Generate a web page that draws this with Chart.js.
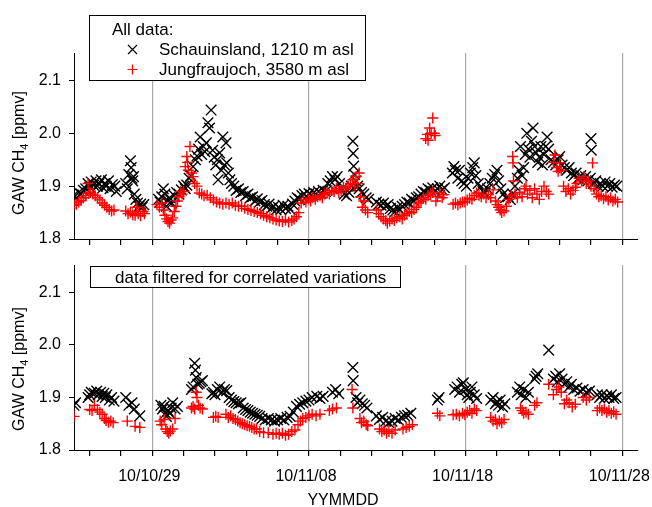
<!DOCTYPE html>
<html>
<head>
<meta charset="utf-8">
<script src="https://cdn.jsdelivr.net/npm/chart.js@4.4.0/dist/chart.umd.min.js"></script>
<style>
  html, body { margin: 0; padding: 0; background: #fff; overflow: hidden; }
  #wrap { position: relative; width: 652px; height: 507px; }
  canvas { position: absolute; left: 0; }
  #cTop { top: 0; }
  #cBot { top: 253px; }
</style>
</head>
<body>
<div id="wrap">
  <canvas id="cTop" width="652" height="253"></canvas>
  <canvas id="cBot" width="652" height="254"></canvas>
</div>
<script>
// x = days after 10/10/24, y = CH4 in ppmv
const xTickDays = [1, 3, 5, 7, 9, 11, 13, 15, 17, 19, 21, 23, 25, 27, 29, 31, 33, 35];
const xMajorDays = [5, 15, 25, 35];
const xMajorLabels = ['10/10/29', '10/11/08', '10/11/18', '10/11/28'];
const yTickVals = [1.8, 1.9, 2.0, 2.1];

// top panel: all data
const schAll = [
  [0.0,1.883],[0.15,1.878],[0.3,1.888],[0.45,1.885],[0.6,1.892],[0.75,1.895],[0.9,1.905],[1.0,1.898],[1.1,1.908],[1.25,1.902],
  [1.4,1.91],[1.5,1.9],[1.6,1.905],[1.75,1.912],[1.85,1.897],[1.95,1.905],[2.05,1.9],[2.2,1.91],[2.3,1.895],[2.45,1.903],[2.6,1.9],[2.7,1.89],
  [3.3,1.905],[3.4,1.895],[3.5,1.922],[3.6,1.948],[3.65,1.935],[3.7,1.915],[3.75,1.91],[3.8,1.918],[3.85,1.885],[3.95,1.875],
  [4.05,1.868],[4.15,1.862],[4.25,1.866],[4.35,1.86],[4.45,1.865],
  [5.4,1.875],[5.5,1.87],[5.6,1.88],[5.7,1.895],[5.8,1.885],[5.9,1.862],[6.0,1.872],[6.1,1.878],[6.25,1.868],[6.4,1.882],
  [6.55,1.888],[6.7,1.885],[6.85,1.893],[7.0,1.9],[7.1,1.895],[7.2,1.902],[7.35,1.915],[7.45,1.92],[7.6,1.937],[7.75,1.95],
  [7.85,1.957],[7.95,1.97],[8.05,1.993],[8.15,1.96],[8.25,1.975],[8.35,1.965],[8.45,1.982],[8.55,2.02],[8.65,2.01],[8.75,2.044],
  [8.85,1.968],[8.95,1.955],[9.05,1.94],[9.15,1.95],[9.2,1.912],[9.3,1.963],[9.4,1.93],[9.5,1.993],[9.6,1.94],[9.7,1.982],
  [9.75,1.944],[9.85,1.925],[9.95,1.912],[10.05,1.905],[10.2,1.9],[10.35,1.892],[10.5,1.895],[10.65,1.888],[10.8,1.89],[10.95,1.882],
  [11.1,1.885],[11.25,1.878],[11.4,1.88],[11.55,1.872],[11.7,1.876],[11.85,1.87],[12.0,1.873],[12.15,1.865],[12.3,1.862],[12.45,1.866],
  [12.6,1.858],[12.75,1.862],[12.9,1.855],[13.05,1.86],[13.2,1.856],[13.35,1.864],[13.5,1.858],[13.65,1.862],[13.8,1.856],[13.95,1.866],
  [14.1,1.872],[14.25,1.878],[14.4,1.875],[14.55,1.882],[14.7,1.885],[14.85,1.88],[15.0,1.886],[15.15,1.883],[15.3,1.888],[15.45,1.885],
  [15.6,1.89],[15.75,1.886],[15.9,1.892],[16.05,1.89],[16.2,1.905],[16.35,1.91],[16.5,1.918],[16.65,1.912],[16.8,1.918],[16.95,1.905],
  [17.1,1.895],[17.25,1.885],[17.4,1.882],[17.55,1.888],[17.7,1.9],[17.8,1.985],[17.82,1.962],[17.85,1.938],[17.9,1.922],[18.0,1.91],
  [18.1,1.9],[18.2,1.895],[18.35,1.888],[18.5,1.885],[18.65,1.878],[18.8,1.875],
  [19.3,1.87],[19.45,1.866],[19.6,1.864],[19.75,1.868],[19.9,1.862],[20.05,1.865],[20.2,1.858],[20.35,1.855],[20.5,1.852],[20.65,1.86],
  [20.8,1.855],[20.95,1.862],[21.1,1.865],[21.25,1.87],[21.4,1.868],[21.55,1.875],[21.7,1.872],[21.85,1.878],[22.0,1.88],[22.15,1.885],
  [22.3,1.89],[22.45,1.888],[22.6,1.895],[22.75,1.892],[22.9,1.897],[23.05,1.89],[23.2,1.895],[23.35,1.9],[23.5,1.893],[23.65,1.897],
  [24.15,1.925],[24.25,1.937],[24.35,1.93],[24.5,1.915],[24.6,1.93],[24.75,1.91],[24.9,1.905],[25.05,1.9],[25.15,1.915],[25.3,1.925],
  [25.45,1.935],[25.55,1.944],[25.65,1.92],[25.8,1.905],[25.95,1.898],[26.1,1.89],[26.25,1.887],[26.4,1.895],[26.55,1.905],[26.7,1.915],
  [26.85,1.922],[27.0,1.93],[27.1,1.91],[27.25,1.895],[27.4,1.885],[27.55,1.878],[27.7,1.88],[27.85,1.875],[28.0,1.885],[28.15,1.9],
  [28.3,1.915],[28.4,1.93],[28.5,1.975],[28.6,1.92],[28.7,1.935],[28.8,1.96],[28.9,2.0],[29.0,1.97],[29.1,1.955],[29.2,1.985],
  [29.3,2.01],[29.4,1.975],[29.5,1.963],[29.6,1.945],[29.7,1.955],[29.8,1.975],[29.9,1.94],[30.0,1.96],[30.1,1.975],[30.2,1.993],
  [30.3,1.97],[30.45,1.95],[30.6,1.945],[30.75,1.94],[30.9,1.95],[31.0,1.956],[31.15,1.94],[31.3,1.935],[31.45,1.93],[31.6,1.935],
  [31.75,1.925],[31.9,1.92],[32.05,1.925],[32.2,1.915],[32.35,1.92],[32.5,1.912],[32.65,1.918],[32.8,1.91],[32.95,1.915],[33.0,1.99],
  [33.02,1.968],[33.15,1.905],[33.3,1.91],[33.45,1.9],[33.6,1.905],[33.75,1.9],[33.9,1.908],[34.05,1.9],[34.2,1.905],[34.35,1.898],
  [34.5,1.902],[34.65,1.9]
];

const jfjAll = [
  [0.0,1.864],[0.15,1.866],[0.3,1.87],[0.45,1.873],[0.6,1.878],[0.75,1.882],[0.9,1.905],[0.95,1.886],[1.05,1.888],[1.2,1.885],
  [1.35,1.882],[1.5,1.878],[1.65,1.874],[1.8,1.868],[1.95,1.864],[2.1,1.86],[2.25,1.856],[2.4,1.853],[2.55,1.855],
  [3.3,1.853],[3.45,1.848],[3.6,1.851],[3.75,1.846],[3.9,1.845],[4.0,1.86],[4.1,1.848],[4.25,1.844],[4.4,1.852],[4.5,1.848],
  [5.3,1.865],[5.45,1.86],[5.6,1.868],[5.7,1.855],[5.8,1.845],[5.9,1.838],[6.0,1.833],[6.1,1.83],[6.2,1.836],[6.3,1.84],
  [6.4,1.852],[6.5,1.862],[6.6,1.872],[6.7,1.88],[6.8,1.89],[6.9,1.885],[7.0,1.89],[7.1,1.937],[7.2,1.956],[7.25,1.945],
  [7.3,1.93],[7.4,1.975],[7.5,1.925],[7.6,1.918],[7.7,1.905],[7.85,1.9],[8.0,1.887],[8.15,1.885],[8.3,1.882],[8.5,1.883],
  [8.7,1.878],[8.9,1.874],[9.1,1.87],[9.3,1.868],[9.5,1.866],[9.7,1.868],[9.9,1.866],[10.1,1.868],[10.3,1.864],[10.5,1.862],
  [10.7,1.862],[10.9,1.858],[11.1,1.856],[11.3,1.854],[11.5,1.852],[11.7,1.85],[11.9,1.848],[12.1,1.845],[12.3,1.842],[12.5,1.84],
  [12.7,1.838],[12.9,1.836],[13.1,1.834],[13.3,1.833],[13.5,1.836],[13.7,1.832],[13.9,1.835],[14.05,1.838],[14.2,1.842],[14.35,1.85],
  [14.5,1.868],[14.65,1.874],[14.8,1.87],[14.95,1.876],[15.1,1.872],[15.25,1.878],[15.4,1.875],[15.55,1.88],[15.7,1.882],[15.85,1.878],
  [16.0,1.885],[16.15,1.888],[16.3,1.885],[16.45,1.892],[16.6,1.89],[16.75,1.895],[16.9,1.888],[17.05,1.892],[17.2,1.898],[17.35,1.895],
  [17.5,1.9],[17.65,1.905],[17.8,1.912],[17.9,1.9],[18.0,1.918],[18.1,1.905],[18.2,1.925],[18.3,1.88],[18.4,1.86],[18.5,1.872],
  [18.6,1.855],[18.75,1.85],
  [19.3,1.855],[19.45,1.848],[19.6,1.842],[19.75,1.838],[19.9,1.835],[20.0,1.83],[20.15,1.834],[20.3,1.838],[20.45,1.835],[20.6,1.84],
  [20.8,1.842],[20.95,1.838],[21.1,1.845],[21.25,1.848],[21.4,1.852],[21.55,1.85],[21.7,1.856],[21.85,1.86],[22.0,1.868],[22.15,1.872],
  [22.3,1.878],[22.45,1.875],[22.6,1.882],[22.45,1.99],[22.55,1.998],[22.6,1.987],[22.7,2.01],[22.8,2.0],[22.9,2.029],[23.0,2.0],
  [23.05,1.996],[22.75,1.885],[22.9,1.888],[23.1,1.872],[23.2,1.88],[23.35,1.888],[23.5,1.878],[23.6,1.884],
  [24.2,1.866],[24.35,1.868],[24.5,1.865],[24.65,1.868],[24.8,1.87],[24.95,1.87],[25.1,1.874],[25.25,1.877],[25.4,1.875],[25.55,1.882],
  [25.7,1.887],[25.85,1.883],[26.0,1.88],[26.15,1.885],[26.3,1.878],[26.45,1.884],[26.6,1.878],[26.75,1.893],[26.9,1.872],[27.0,1.865],
  [27.1,1.86],[27.2,1.855],[27.3,1.85],[27.45,1.853],[27.6,1.862],[27.75,1.875],[27.9,1.882],[28.0,1.956],[28.02,1.944],[28.05,1.91],
  [28.15,1.885],[28.3,1.878],[28.45,1.888],[28.6,1.88],[28.75,1.895],[28.85,1.9],[28.95,1.885],[29.1,1.892],[29.25,1.878],[29.4,1.895],
  [29.55,1.885],[29.7,1.875],[29.85,1.89],[30.0,1.9],[30.15,1.89],[30.3,1.885],[30.6,1.945],[30.7,1.959],[30.8,1.935],[30.9,1.928],
  [31.0,1.944],[31.1,1.93],[31.25,1.9],[31.4,1.89],[31.55,1.895],[31.7,1.885],[31.85,1.892],[32.0,1.898],[32.1,1.905],[32.25,1.915],
  [32.4,1.91],[32.55,1.918],[32.7,1.905],[32.85,1.91],[33.0,1.9],[33.1,1.944],[33.2,1.895],[33.35,1.885],[33.5,1.88],[33.65,1.882],
  [33.8,1.876],[33.95,1.88],[34.1,1.874],[34.25,1.878],[34.4,1.872],[34.55,1.875],[34.7,1.87]
];

// bottom panel: filtered data
const schFilt = [
  [0.0,1.885],[0.1,1.89],
  [0.9,1.9],[1.0,1.905],[1.1,1.91],[1.3,1.908],[1.45,1.912],[1.55,1.905],[1.7,1.91],[1.8,1.902],[1.9,1.908],[2.0,1.9],
  [2.1,1.905],[2.25,1.895],[2.4,1.9],[2.55,1.893],
  [3.3,1.9],[3.5,1.885],[3.7,1.89],[3.85,1.878],[4.2,1.865],
  [5.55,1.885],[5.65,1.878],[5.75,1.883],[5.85,1.87],[5.9,1.864],[6.0,1.875],[6.1,1.87],[6.2,1.88],[6.3,1.89],[6.45,1.878],[6.6,1.883],
  [7.5,1.915],[7.6,1.92],[7.7,1.965],[7.75,1.952],[7.8,1.938],[7.9,1.925],[8.0,1.927],[8.1,1.93],[8.2,1.932],
  [8.8,1.907],[8.9,1.91],[9.0,1.905],[9.15,1.915],[9.3,1.92],[9.45,1.91],[9.6,1.915],[9.75,1.913],[9.9,1.9],[10.05,1.895],
  [10.2,1.892],[10.35,1.89],[10.5,1.888],[10.65,1.89],[10.8,1.88],[10.95,1.877],[11.1,1.875],[11.25,1.872],[11.4,1.87],[11.55,1.868],
  [11.7,1.866],[11.85,1.864],[12.0,1.86],[12.2,1.857],[12.4,1.86],[12.6,1.857],[12.8,1.855],[13.0,1.857],[13.2,1.86],[13.4,1.857],
  [13.6,1.862],[13.8,1.864],[14.0,1.872],[14.2,1.883],[14.4,1.887],[14.6,1.89],[14.8,1.893],[15.0,1.895],[15.2,1.9],[15.5,1.902],
  [15.7,1.898],[15.9,1.902],
  [16.5,1.91],[16.7,1.915],[16.9,1.907],
  [17.8,1.957],[17.82,1.932],[18.0,1.9],[18.1,1.89],[18.25,1.895],[18.4,1.888],[18.55,1.885],[18.7,1.88],
  [19.3,1.865],[19.5,1.858],[19.7,1.862],[19.9,1.855],[20.1,1.852],[20.3,1.855],[20.5,1.86],[20.7,1.857],[20.9,1.862],[21.1,1.865],
  [21.3,1.866],[21.5,1.87],
  [23.2,1.895],[23.3,1.9],
  [24.3,1.915],[24.45,1.92],[24.6,1.91],[24.75,1.925],[24.85,1.928],[25.0,1.915],[25.1,1.905],[25.2,1.9],[25.3,1.91],[25.4,1.92],
  [25.55,1.905],[25.7,1.898],
  [26.6,1.895],[26.75,1.9],[26.9,1.888],[27.0,1.892],[27.1,1.885],[27.2,1.895],[27.35,1.882],[27.5,1.888],
  [28.3,1.91],[28.45,1.92],[28.55,1.905],[28.7,1.915],[28.85,1.9],[29.0,1.91],
  [29.4,1.935],[29.5,1.94],[29.6,1.945],
  [30.3,1.99],
  [30.6,1.935],[30.75,1.94],[30.85,1.93],[31.0,1.945],[31.15,1.935],[31.3,1.925],[31.45,1.93],[31.6,1.92],[31.75,1.925],[31.9,1.915],
  [32.1,1.918],[32.3,1.912],[32.5,1.915],[32.7,1.91],[32.9,1.912],
  [33.4,1.905],[33.55,1.9],[33.7,1.905],[33.85,1.898],[34.0,1.903],[34.15,1.9],[34.3,1.905],[34.45,1.898],[34.6,1.9]
];

const jfjFilt = [
  [0.0,1.864],
  [1.0,1.877],[1.15,1.875],[1.3,1.885],[1.5,1.877],[1.65,1.872],[1.8,1.868],[1.95,1.86],[2.05,1.856],[2.2,1.853],[2.35,1.855],[2.5,1.852],
  [3.4,1.855],[3.9,1.845],[4.2,1.843],
  [5.5,1.855],[5.6,1.848],[5.75,1.858],[5.85,1.84],[5.95,1.835],[6.05,1.832],[6.15,1.836],[6.3,1.84],[6.45,1.86],
  [7.5,1.88],[7.6,1.883],[7.7,1.878],[7.8,1.91],[7.85,1.9],[7.95,1.885],[8.05,1.88],[8.2,1.878],
  [8.9,1.862],[9.05,1.864],[9.2,1.862],
  [9.7,1.868],[9.85,1.862],[10.0,1.865],[10.15,1.86],[10.3,1.858],[10.45,1.855],[10.6,1.852],[10.75,1.85],[10.9,1.848],[11.05,1.846],
  [11.2,1.845],[11.35,1.843],[11.5,1.84],[11.65,1.84],[11.85,1.835],[12.1,1.833],[12.4,1.833],[12.7,1.83],[12.9,1.832],[13.1,1.83],
  [13.3,1.832],[13.5,1.828],[13.7,1.83],[13.9,1.835],[14.1,1.838],[14.3,1.848],[14.45,1.855],[14.6,1.86],[14.8,1.862],[15.0,1.865],
  [15.2,1.868],[15.45,1.865],[15.7,1.868],
  [16.3,1.875],[16.5,1.878],[16.75,1.88],
  [17.75,1.915],[17.8,1.88],
  [18.25,1.86],[18.35,1.852],[18.5,1.855],[18.65,1.848],[18.75,1.846],
  [19.5,1.84],[19.65,1.835],[19.8,1.838],[19.95,1.832],[20.1,1.835],[20.3,1.832],[20.5,1.838],
  [21.0,1.84],[21.2,1.843],[21.4,1.845],[21.6,1.848],
  [23.2,1.87],[23.35,1.865],
  [24.2,1.867],[24.4,1.868],[24.6,1.865],[24.8,1.87],[24.95,1.867],[25.1,1.872],[25.25,1.875],[25.4,1.87],[25.55,1.878],[25.7,1.875],
  [26.6,1.862],[26.75,1.855],[26.9,1.858],[27.0,1.85],[27.15,1.855],[27.3,1.852],[27.45,1.858],
  [28.5,1.88],[28.6,1.875],[28.7,1.87],[28.85,1.872],[29.0,1.868],
  [29.4,1.885],[29.55,1.89],
  [30.3,1.925],[30.6,1.905],[30.8,1.915],[30.95,1.92],[31.1,1.91],[31.3,1.888],[31.45,1.895],[31.6,1.89],[31.8,1.882],[32.0,1.887],
  [32.5,1.9],[32.7,1.895],[32.9,1.9],
  [33.4,1.875],[33.55,1.88],[33.7,1.875],[33.85,1.878],[34.0,1.872],[34.15,1.875],[34.3,1.87],[34.45,1.873],[34.6,1.868]
];

const FONT = '"Liberation Sans", Arial, sans-serif';

function drawCross(ctx, x, y, r, rotated) {
	ctx.beginPath();
	if (rotated) {
		ctx.moveTo(x - r, y - r); ctx.lineTo(x + r, y + r);
		ctx.moveTo(x - r, y + r); ctx.lineTo(x + r, y - r);
	} else {
		ctx.moveTo(x - r, y); ctx.lineTo(x + r, y);
		ctx.moveTo(x, y - r); ctx.lineTo(x, y + r);
	}
	ctx.stroke();
}

function drawYTitle(ctx, x, y) {
	let big = '16px ' + FONT;
	let small = '11px ' + FONT;
	ctx.save();
	ctx.translate(x, y);
	ctx.rotate(-Math.PI / 2);
	ctx.fillStyle = '#000';
	ctx.textBaseline = 'alphabetic';
	ctx.textAlign = 'left';
	ctx.font = big;
	let wa = ctx.measureText('GAW CH').width;
	let wb = ctx.measureText(' [ppmv]').width;
	ctx.font = small;
	let ws = ctx.measureText('4').width;
	let start = -(wa + ws + wb) / 2;
	ctx.font = big;
	ctx.fillText('GAW CH', start, 0);
	ctx.font = small;
	ctx.fillText('4', start + wa, 4);
	ctx.font = big;
	ctx.fillText(' [ppmv]', start + wa + ws, 0);
	ctx.restore();
}

const topTexts = {
	id: 'topTexts',
	afterDraw(chart) {
		let ctx = chart.ctx;
		drawYTitle(ctx, 24, 153);
		ctx.save();
		ctx.fillStyle = '#fff';
		ctx.fillRect(89.5, 15.5, 276, 65);
		ctx.strokeStyle = '#000';
		ctx.lineWidth = 1;
		ctx.strokeRect(89.5, 15.5, 276, 65);
		ctx.fillStyle = '#000';
		ctx.font = '17px ' + FONT;
		ctx.textBaseline = 'alphabetic';
		ctx.fillText('All data:', 112, 35);
		ctx.fillText('Schauinsland, 1210 m asl', 159, 55);
		ctx.fillText('Jungfraujoch, 3580 m asl', 159, 75);
		ctx.lineWidth = 1.2;
		ctx.strokeStyle = '#000';
		drawCross(ctx, 132.5, 49.5, 4.5, true);
		ctx.strokeStyle = '#ff0000';
		drawCross(ctx, 132.5, 69.5, 5, false);
		ctx.restore();
	}
};

const botTexts = {
	id: 'botTexts',
	afterDraw(chart) {
		let ctx = chart.ctx;
		drawYTitle(ctx, 24, 116);
		ctx.save();
		ctx.fillStyle = '#fff';
		ctx.fillRect(90.5, 13.5, 310, 21);
		ctx.strokeStyle = '#000';
		ctx.lineWidth = 1;
		ctx.strokeRect(90.5, 13.5, 310, 21);
		ctx.fillStyle = '#000';
		ctx.font = '17px ' + FONT;
		ctx.textBaseline = 'alphabetic';
		ctx.fillText('data filtered for correlated variations', 115, 30);
		ctx.font = '16px ' + FONT;
		ctx.textAlign = 'center';
		ctx.fillText('YYMMDD', 343, 252);
		ctx.restore();
	}
};

function makeChart(canvasId, jfjData, schData, showXLabels, xHeight, padTop, textPlugin) {
	let canva = document.getElementById(canvasId).getContext('2d');
	return new Chart(canva, {
		type: 'scatter',
		data: {
			datasets: [{
				label: 'Jungfraujoch, 3580 m asl',
				data: jfjData,
				pointStyle: 'cross',
				pointRadius: 5.5,
				borderColor: '#ff0000',
				backgroundColor: '#ff0000',
				pointBorderWidth: 1.4
			}, {
				label: 'Schauinsland, 1210 m asl',
				data: schData,
				pointStyle: 'crossRot',
				pointRadius: 7.5,
				borderColor: '#000000',
				backgroundColor: '#000000',
				pointBorderWidth: 1.4
			}]
		},
		options: {
			responsive: false,
			animation: false,
			layout: { padding: { top: padTop, right: 14, left: 0, bottom: 0 } },
			plugins: { legend: { display: false }, tooltip: { enabled: false } },
			scales: {
				x: {
					type: 'linear',
					min: 0,
					max: 36,
					afterBuildTicks: s => { s.ticks = xTickDays.map(v => ({ value: v })); },
					afterFit: s => { s.height = xHeight; s.paddingLeft = 0; s.paddingRight = 0; },
					border: { color: '#000', width: 1 },
					grid: {
						color: c => (c.tick && xMajorDays.includes(c.tick.value)) ? '#a8a8a8' : 'rgba(0,0,0,0)',
						lineWidth: 1.2,
						tickColor: '#000',
						tickLength: 6
					},
					ticks: {
						display: showXLabels,
						autoSkip: false,
						maxRotation: 0,
						padding: 11,
						labelOffset: -3,
						color: '#000',
						font: { family: FONT, size: 16 },
						callback: v => {
							let i = xMajorDays.indexOf(v);
							return i >= 0 ? xMajorLabels[i] : '';
						}
					}
				},
				y: {
					type: 'linear',
					min: 1.8,
					max: 2.152,
					afterBuildTicks: s => { s.ticks = yTickVals.map(v => ({ value: v })); },
					afterFit: s => { s.width = 74; s.paddingTop = 0; s.paddingBottom = 0; },
					border: { color: '#000', width: 1 },
					grid: { drawOnChartArea: false, tickColor: '#000', tickLength: 5 },
					ticks: {
						padding: 8,
						color: '#000',
						font: { family: FONT, size: 16 },
						callback: v => v.toFixed(1)
					}
				}
			}
		},
		plugins: [textPlugin]
	});
}

makeChart('cTop', jfjAll, schAll, false, 14, 53, topTexts);
makeChart('cBot', jfjFilt, schFilt, true, 57, 12, botTexts);
</script>
</body>
</html>
